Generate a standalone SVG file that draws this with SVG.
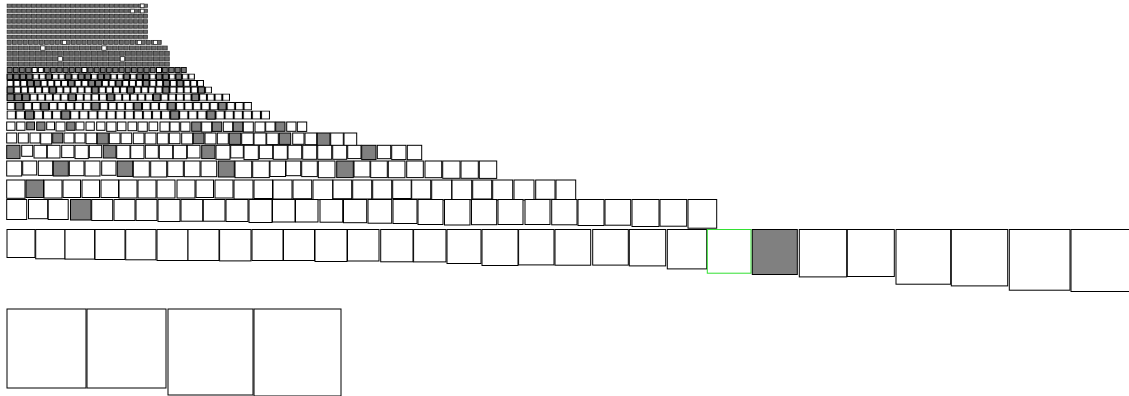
<svg xmlns="http://www.w3.org/2000/svg" width="1129" height="396" viewBox="0 0 1129 396">
<style>
.b{fill:#fff;stroke:#000;stroke-width:1}
.g{fill:#808080;stroke:#000;stroke-width:1}
.gr{fill:#fff;stroke:#33e033;stroke-width:1}
.w{fill:#fff;stroke:#222;stroke-width:0.7}
</style>
<defs>
<pattern id="t1" patternUnits="userSpaceOnUse" x="6.7" y="3.5" width="4.87" height="8"><rect x="0.5" y="0.5" width="3.7" height="3.7" fill="#6e6e6e" stroke="#1a1a1a" stroke-width="0.7"/></pattern>
<pattern id="t2" patternUnits="userSpaceOnUse" x="6.7" y="8.7" width="4.87" height="8"><rect x="0.5" y="0.5" width="3.7" height="3.7" fill="#6a6a6a" stroke="#1a1a1a" stroke-width="0.7"/></pattern>
<pattern id="t3" patternUnits="userSpaceOnUse" x="6.7" y="13.9" width="4.87" height="8"><rect x="0.5" y="0.5" width="3.7" height="3.7" fill="#666" stroke="#1a1a1a" stroke-width="0.7"/></pattern>
<pattern id="t4" patternUnits="userSpaceOnUse" x="6.7" y="19.1" width="4.87" height="8"><rect x="0.5" y="0.5" width="3.7" height="3.7" fill="#6a6a6a" stroke="#1a1a1a" stroke-width="0.7"/></pattern>
<pattern id="t5" patternUnits="userSpaceOnUse" x="6.7" y="24.3" width="4.87" height="8"><rect x="0.5" y="0.5" width="3.7" height="3.7" fill="#666" stroke="#1a1a1a" stroke-width="0.7"/></pattern>
<pattern id="t6" patternUnits="userSpaceOnUse" x="6.7" y="29.5" width="4.87" height="8"><rect x="0.5" y="0.5" width="3.7" height="3.7" fill="#6a6a6a" stroke="#1a1a1a" stroke-width="0.7"/></pattern>
<pattern id="t7" patternUnits="userSpaceOnUse" x="6.7" y="34.7" width="4.87" height="8"><rect x="0.5" y="0.5" width="3.7" height="3.7" fill="#666" stroke="#1a1a1a" stroke-width="0.7"/></pattern>
<pattern id="t8" patternUnits="userSpaceOnUse" x="6.7" y="39.9" width="5.35" height="8"><rect x="0.5" y="0.5" width="4.1" height="4.1" fill="#6e6e6e" stroke="#1a1a1a" stroke-width="0.7"/></pattern>
<pattern id="t9" patternUnits="userSpaceOnUse" x="6.7" y="45.4" width="5.56" height="8"><rect x="0.5" y="0.5" width="4.3" height="4.3" fill="#6a6a6a" stroke="#1a1a1a" stroke-width="0.7"/></pattern>
<pattern id="t10" patternUnits="userSpaceOnUse" x="6.7" y="50.8" width="5.63" height="8"><rect x="0.5" y="0.5" width="4.4" height="4.4" fill="#666" stroke="#1a1a1a" stroke-width="0.7"/></pattern>
<pattern id="t11" patternUnits="userSpaceOnUse" x="6.7" y="56.2" width="5.63" height="8"><rect x="0.5" y="0.5" width="4.4" height="4.4" fill="#6a6a6a" stroke="#1a1a1a" stroke-width="0.7"/></pattern>
<pattern id="t12" patternUnits="userSpaceOnUse" x="6.7" y="61.5" width="5.63" height="8"><rect x="0.5" y="0.5" width="4.4" height="4.4" fill="#6e6e6e" stroke="#1a1a1a" stroke-width="0.7"/></pattern>
<pattern id="pM" patternUnits="userSpaceOnUse" x="6.7" y="67" width="6.22" height="9"><rect x="0.5" y="0.5" width="5.0" height="5.0" fill="#777" stroke="#000" stroke-width="0.9"/></pattern>
<pattern id="pL" patternUnits="userSpaceOnUse" x="6.7" y="73.5" width="6.49" height="9"><rect x="0.5" y="0.5" width="5.4" height="5.4" fill="#fff" stroke="#000" stroke-width="1"/></pattern>
<pattern id="pK" patternUnits="userSpaceOnUse" x="6.7" y="80" width="6.8" height="9"><rect x="0.5" y="0.5" width="5.8" height="5.8" fill="#fff" stroke="#000" stroke-width="1"/></pattern>
<pattern id="pJ" patternUnits="userSpaceOnUse" x="6.7" y="86.5" width="7.08" height="9"><rect x="0.5" y="0.5" width="6.1" height="6.1" fill="#fff" stroke="#000" stroke-width="1"/></pattern>
<pattern id="pI" patternUnits="userSpaceOnUse" x="6.7" y="93.5" width="7.7" height="10"><rect x="0.5" y="0.5" width="6.7" height="6.7" fill="#fff" stroke="#000" stroke-width="1"/></pattern>
<pattern id="pH" patternUnits="userSpaceOnUse" x="6.7" y="102" width="8.46" height="10"><rect x="0.5" y="0.5" width="7.4" height="7.4" fill="#fff" stroke="#000" stroke-width="1"/></pattern>
<pattern id="pG" patternUnits="userSpaceOnUse" x="6.7" y="110.5" width="9.08" height="11"><rect x="0.5" y="0.5" width="8.1" height="8.1" fill="#fff" stroke="#000" stroke-width="1"/></pattern>
</defs>
<rect width="1129" height="396" fill="#fff"/>

<g id="top-rows">
<rect x="6.7" y="3.5" width="141.3" height="5" fill="url(#t1)"/>
<rect x="6.7" y="8.7" width="141.3" height="5" fill="url(#t2)"/>
<rect x="6.7" y="13.9" width="141.3" height="5" fill="url(#t3)"/>
<rect x="6.7" y="19.1" width="141.3" height="5" fill="url(#t4)"/>
<rect x="6.7" y="24.3" width="141.3" height="5" fill="url(#t5)"/>
<rect x="6.7" y="29.5" width="141.3" height="5" fill="url(#t6)"/>
<rect x="6.7" y="34.7" width="141.3" height="5" fill="url(#t7)"/>
<rect x="6.7" y="39.9" width="155.3" height="5.4" fill="url(#t8)"/>
<rect x="6.7" y="45.4" width="161.3" height="5.4" fill="url(#t9)"/>
<rect x="6.7" y="50.8" width="163.3" height="5.4" fill="url(#t10)"/>
<rect x="6.7" y="56.2" width="163.3" height="5.4" fill="url(#t11)"/>
<rect x="6.7" y="61.5" width="163.3" height="5.4" fill="url(#t12)"/>
<rect class="w" x="140.4" y="4" width="3.7" height="3.7"/>
<rect class="w" x="130.7" y="9.2" width="3.7" height="3.7"/>
<rect class="w" x="140.4" y="9.2" width="3.7" height="3.7"/>
<rect class="w" x="62.4" y="40.4" width="4.1" height="4.1"/>
<rect class="w" x="137.3" y="40.4" width="4.1" height="4.1"/>
<rect class="w" x="153.4" y="40.4" width="4.1" height="4.1"/>
<rect class="w" x="40.7" y="45.9" width="4.3" height="4.3"/>
<rect class="w" x="101.9" y="45.9" width="4.3" height="4.3"/>
<rect class="w" x="58" y="56.7" width="4.4" height="4.4"/>
<rect class="w" x="120.3" y="56.7" width="4.4" height="4.4"/>
</g>

<g id="row-M">
<rect x="6.7" y="67" width="180.3" height="6" fill="url(#pM)"/>
<rect class="b" x="32.1" y="67.5" width="5.0" height="5.0"/>
<rect class="b" x="38.3" y="67.5" width="5.0" height="5.0"/>
<rect class="b" x="81.9" y="67.5" width="5.0" height="5.0"/>
<rect class="b" x="156.5" y="67.5" width="5.0" height="5.0"/>
</g>
<g id="row-L">
<rect x="6.7" y="73.5" width="188.3" height="6.5" fill="url(#pL)"/>
<rect class="g" x="7.2" y="74" width="5.4" height="5.4"/>
<rect class="g" x="13.7" y="74" width="5.4" height="5.4"/>
<rect class="g" x="20.2" y="74" width="5.4" height="5.4"/>
<rect class="g" x="26.7" y="74" width="5.4" height="5.4"/>
<rect class="g" x="46.1" y="74" width="5.4" height="5.4"/>
<rect class="g" x="65.6" y="74" width="5.4" height="5.4"/>
<rect class="g" x="78.6" y="74" width="5.4" height="5.4"/>
<rect class="g" x="85.1" y="74" width="5.4" height="5.4"/>
<rect class="g" x="98.1" y="74" width="5.4" height="5.4"/>
<rect class="g" x="104.6" y="74" width="5.4" height="5.4"/>
<rect class="g" x="124.0" y="74" width="5.4" height="5.4"/>
<rect class="g" x="137.0" y="74" width="5.4" height="5.4"/>
<rect class="g" x="143.5" y="74" width="5.4" height="5.4"/>
<rect class="g" x="156.5" y="74" width="5.4" height="5.4"/>
<rect class="g" x="163.0" y="74" width="5.4" height="5.4"/>
<rect class="g" x="176.0" y="74" width="5.4" height="5.4"/>
</g>
<g id="row-K">
<rect x="6.7" y="80" width="197.3" height="7" fill="url(#pK)"/>
<rect class="g" x="27.6" y="80.5" width="5.8" height="5.8"/>
<rect class="g" x="34.4" y="80.5" width="5.8" height="5.8"/>
<rect class="g" x="68.4" y="80.5" width="5.8" height="5.8"/>
<rect class="g" x="88.8" y="80.5" width="5.8" height="5.8"/>
<rect class="g" x="95.6" y="80.5" width="5.8" height="5.8"/>
<rect class="g" x="116.0" y="80.5" width="5.8" height="5.8"/>
<rect class="g" x="143.2" y="80.5" width="5.8" height="5.8"/>
<rect class="g" x="163.6" y="80.5" width="5.8" height="5.8"/>
<rect class="g" x="177.2" y="80.5" width="5.8" height="5.8"/>
</g>
<g id="row-J">
<rect x="6.7" y="86.5" width="205.3" height="7" fill="url(#pJ)"/>
<rect class="g" x="7.2" y="87" width="6.1" height="6.1"/>
<rect class="g" x="49.7" y="87" width="6.1" height="6.1"/>
<rect class="g" x="92.1" y="87" width="6.1" height="6.1"/>
<rect class="g" x="127.5" y="87" width="6.1" height="6.1"/>
<rect class="g" x="162.9" y="87" width="6.1" height="6.1"/>
<rect class="g" x="198.3" y="87" width="6.1" height="6.1"/>
</g>
<g id="row-I">
<rect x="6.7" y="93.5" width="223.3" height="8" fill="url(#pI)"/>
<rect class="g" x="7.2" y="94" width="6.7" height="6.7"/>
<rect class="g" x="14.9" y="94" width="6.7" height="6.7"/>
<rect class="g" x="22.6" y="94" width="6.7" height="6.7"/>
<rect class="g" x="68.8" y="94" width="6.7" height="6.7"/>
<rect class="g" x="107.3" y="94" width="6.7" height="6.7"/>
<rect class="g" x="153.5" y="94" width="6.7" height="6.7"/>
<rect class="g" x="192.0" y="94" width="6.7" height="6.7"/>
</g>
<g id="row-H">
<rect x="6.7" y="102" width="245.3" height="8.5" fill="url(#pH)"/>
<rect class="g" x="15.7" y="102.5" width="7.4" height="7.4"/>
<rect class="g" x="41.0" y="102.5" width="7.4" height="7.4"/>
<rect class="g" x="91.8" y="102.5" width="7.4" height="7.4"/>
<rect class="g" x="134.1" y="102.5" width="7.4" height="7.4"/>
<rect class="g" x="167.9" y="102.5" width="7.4" height="7.4"/>
<rect class="g" x="218.7" y="102.5" width="7.4" height="7.4"/>
</g>
<g id="row-G">
<rect x="6.7" y="110.5" width="263.3" height="9.2" fill="url(#pG)"/>
<rect class="g" x="25.4" y="111" width="8.1" height="8.1"/>
<rect class="g" x="61.7" y="111" width="8.1" height="8.1"/>
<rect class="g" x="170.7" y="111" width="8.1" height="8.1"/>
<rect class="g" x="207.0" y="111" width="8.1" height="8.1"/>
</g>

<g id="row-C">
<rect class="b" x="6.7" y="122" width="8.3" height="8.3"/>
<rect class="b" x="16.7" y="122" width="8.3" height="8.3"/>
<rect class="g" x="26.7" y="122" width="7.8" height="7.8"/>
<rect class="g" x="36.7" y="122" width="8.3" height="8.3"/>
<rect class="b" x="46.7" y="122" width="7.8" height="7.8"/>
<rect class="b" x="56" y="122" width="9" height="9"/>
<rect class="g" x="66.7" y="122" width="8.3" height="8.3"/>
<rect class="b" x="76" y="122" width="8" height="8"/>
<rect class="b" x="86" y="122" width="8.3" height="8.3"/>
<rect class="b" x="96.7" y="122" width="8.3" height="8.3"/>
<rect class="b" x="106.7" y="122" width="9.3" height="9.3"/>
<rect class="b" x="117.3" y="122" width="8.7" height="8.7"/>
<rect class="b" x="128" y="122" width="8.7" height="8.7"/>
<rect class="b" x="138" y="122" width="9.3" height="9.3"/>
<rect class="b" x="149" y="122" width="8.7" height="8.7"/>
<rect class="b" x="160" y="122" width="9.3" height="9.3"/>
<rect class="b" x="170" y="122" width="9.3" height="9.3"/>
<rect class="b" x="180.7" y="122" width="9.3" height="9.3"/>
<rect class="g" x="191.7" y="122" width="9.3" height="9.3"/>
<rect class="b" x="201.7" y="122" width="10" height="10"/>
<rect class="g" x="212.3" y="122" width="9.4" height="9.4"/>
<rect class="b" x="223.3" y="122" width="9.4" height="9.4"/>
<rect class="g" x="233.3" y="122" width="9.4" height="9.4"/>
<rect class="b" x="243.3" y="122" width="10" height="10"/>
<rect class="b" x="255" y="122" width="10" height="10"/>
<rect class="b" x="265.7" y="122" width="9.3" height="9.3"/>
<rect class="g" x="275.7" y="122" width="9.3" height="9.3"/>
<rect class="b" x="286.7" y="122" width="9.3" height="9.3"/>
<rect class="b" x="297.3" y="122" width="9.4" height="9.4"/>
</g>

<g id="row-D">
<rect class="b" x="6.7" y="133" width="10" height="10"/>
<rect class="b" x="18.3" y="133" width="10" height="10"/>
<rect class="b" x="30" y="133" width="10" height="10"/>
<rect class="b" x="40.7" y="133" width="11" height="11"/>
<rect class="g" x="52.7" y="133" width="10" height="10"/>
<rect class="b" x="64" y="133" width="10" height="10"/>
<rect class="b" x="75" y="133" width="10" height="10"/>
<rect class="b" x="86" y="133" width="10.7" height="10.7"/>
<rect class="g" x="97.3" y="133" width="11" height="11"/>
<rect class="b" x="109.3" y="133" width="10.7" height="10.7"/>
<rect class="b" x="121" y="133" width="10.7" height="10.7"/>
<rect class="b" x="133.3" y="133" width="10.7" height="10.7"/>
<rect class="b" x="145" y="133" width="11" height="11"/>
<rect class="b" x="157.3" y="133" width="11" height="11"/>
<rect class="b" x="169.3" y="133" width="10.7" height="10.7"/>
<rect class="b" x="181.7" y="133" width="11" height="11"/>
<rect class="g" x="193.3" y="133" width="10.7" height="10.7"/>
<rect class="b" x="205" y="133" width="11" height="11"/>
<rect class="b" x="217.3" y="133" width="11" height="11"/>
<rect class="g" x="229.3" y="133" width="11.4" height="11.4"/>
<rect class="b" x="241.7" y="133" width="11.6" height="11.6"/>
<rect class="b" x="254" y="133" width="12" height="12"/>
<rect class="b" x="266.7" y="133" width="11.6" height="11.6"/>
<rect class="g" x="279.3" y="133" width="11.4" height="11.4"/>
<rect class="b" x="292.7" y="133" width="11.3" height="11.3"/>
<rect class="b" x="305" y="133" width="11.7" height="11.7"/>
<rect class="g" x="317.3" y="133" width="12.7" height="12.7"/>
<rect class="b" x="330.7" y="133" width="12.6" height="12.6"/>
<rect class="b" x="344" y="133" width="12.7" height="12.7"/>
</g>

<g id="row-E">
<rect class="g" x="6.7" y="145.3" width="13.3" height="13.3"/>
<rect class="b" x="21.7" y="145.3" width="11" height="11"/>
<rect class="b" x="34" y="145.3" width="12.7" height="12.7"/>
<rect class="b" x="47.3" y="145.3" width="12.7" height="12.7"/>
<rect class="b" x="61.7" y="145.3" width="12.3" height="12.3"/>
<rect class="b" x="75" y="145.3" width="13.3" height="13.3"/>
<rect class="b" x="89.3" y="145.3" width="12.4" height="12.4"/>
<rect class="g" x="103.3" y="145.3" width="12.7" height="12.7"/>
<rect class="b" x="116.7" y="145.3" width="13.3" height="13.3"/>
<rect class="b" x="130.7" y="145.3" width="13.3" height="13.3"/>
<rect class="b" x="145.3" y="145.3" width="13" height="13"/>
<rect class="b" x="159.3" y="145.3" width="13.4" height="13.4"/>
<rect class="b" x="173.3" y="145.3" width="13.4" height="13.4"/>
<rect class="b" x="187.3" y="145.3" width="12.7" height="12.7"/>
<rect class="g" x="201.7" y="145.3" width="13.3" height="13.3"/>
<rect class="b" x="216" y="145.3" width="14" height="14"/>
<rect class="b" x="230.7" y="145.3" width="12.6" height="12.6"/>
<rect class="b" x="244" y="145.3" width="14.3" height="14.3"/>
<rect class="b" x="259.3" y="145.3" width="13.4" height="13.4"/>
<rect class="b" x="273.3" y="145.3" width="14" height="14"/>
<rect class="b" x="288" y="145.3" width="13.7" height="13.7"/>
<rect class="b" x="302.7" y="145.3" width="14" height="14"/>
<rect class="b" x="317.7" y="145.3" width="14" height="14"/>
<rect class="b" x="332.7" y="145.3" width="14" height="14"/>
<rect class="b" x="347.7" y="145.3" width="13.3" height="13.3"/>
<rect class="g" x="361.7" y="145.3" width="14.3" height="14.3"/>
<rect class="b" x="377.3" y="145.3" width="13.4" height="13.4"/>
<rect class="b" x="391.7" y="145.3" width="14.3" height="14.3"/>
<rect class="b" x="407.3" y="145.3" width="14.4" height="14.4"/>
</g>

<g id="row-F">
<rect class="b" x="6.7" y="161" width="15" height="15"/>
<rect class="b" x="22.7" y="161" width="14" height="14"/>
<rect class="b" x="38.3" y="161" width="14.4" height="14.4"/>
<rect class="g" x="53.3" y="161" width="15" height="15"/>
<rect class="b" x="69.3" y="161" width="14.7" height="14.7"/>
<rect class="b" x="85" y="161" width="15" height="15"/>
<rect class="b" x="101.7" y="161" width="14.3" height="14.3"/>
<rect class="g" x="117.3" y="161" width="15.4" height="15.4"/>
<rect class="b" x="133.3" y="161" width="16" height="16"/>
<rect class="b" x="150.7" y="161" width="16" height="16"/>
<rect class="b" x="167.7" y="161" width="15.6" height="15.6"/>
<rect class="b" x="184.3" y="161" width="15.7" height="15.7"/>
<rect class="b" x="201" y="161" width="15.7" height="15.7"/>
<rect class="g" x="218.3" y="161" width="16" height="16"/>
<rect class="b" x="235" y="161" width="16.7" height="16.7"/>
<rect class="b" x="252.7" y="161" width="16.6" height="16.6"/>
<rect class="b" x="270" y="161" width="15.5" height="15.5"/>
<rect class="b" x="286" y="161" width="14.7" height="14.7"/>
<rect class="b" x="301.7" y="161" width="15.6" height="15.6"/>
<rect class="b" x="318.3" y="161" width="16.7" height="16.7"/>
<rect class="g" x="336.7" y="161" width="16.6" height="16.6"/>
<rect class="b" x="354" y="161" width="16" height="16"/>
<rect class="b" x="370.7" y="161" width="16.6" height="16.6"/>
<rect class="b" x="388.3" y="161" width="16.7" height="16.7"/>
<rect class="b" x="406.7" y="161" width="16.6" height="16.6"/>
<rect class="b" x="425" y="161" width="16.7" height="16.7"/>
<rect class="b" x="442.7" y="161" width="17.3" height="17.3"/>
<rect class="b" x="461" y="161" width="17.3" height="17.3"/>
<rect class="b" x="479.3" y="161" width="17.4" height="17.4"/>
</g>

<g id="row-A">
<rect class="b" x="6.7" y="180" width="18.3" height="18.3"/>
<rect class="g" x="26" y="180" width="17.5" height="17.5"/>
<rect class="b" x="44" y="180" width="18" height="18"/>
<rect class="b" x="63" y="180" width="17.5" height="17.5"/>
<rect class="b" x="82" y="180" width="17.5" height="17.5"/>
<rect class="b" x="101" y="180" width="17.5" height="17.5"/>
<rect class="b" x="119" y="180" width="18" height="18"/>
<rect class="b" x="138" y="180" width="18" height="18"/>
<rect class="b" x="157" y="180" width="18" height="18"/>
<rect class="b" x="177" y="180" width="18" height="18"/>
<rect class="b" x="196" y="180" width="17.5" height="17.5"/>
<rect class="b" x="215" y="180" width="18" height="18"/>
<rect class="b" x="234" y="180" width="19" height="19"/>
<rect class="b" x="254" y="180" width="18.5" height="18.5"/>
<rect class="b" x="273" y="180" width="19" height="19"/>
<rect class="b" x="293" y="180" width="18.7" height="18.7"/>
<rect class="b" x="313" y="180" width="19.7" height="19.7"/>
<rect class="b" x="333" y="180" width="18.7" height="18.7"/>
<rect class="b" x="352.7" y="180" width="19" height="19"/>
<rect class="b" x="372.7" y="180" width="19" height="19"/>
<rect class="b" x="392.7" y="180" width="18.5" height="18.5"/>
<rect class="b" x="411.7" y="180" width="19" height="19"/>
<rect class="b" x="431.7" y="180" width="20" height="20"/>
<rect class="b" x="452" y="180" width="19.7" height="19.7"/>
<rect class="b" x="472.7" y="180" width="19" height="19"/>
<rect class="b" x="492.7" y="180" width="20" height="20"/>
<rect class="b" x="514" y="180" width="20" height="20"/>
<rect class="b" x="535.7" y="180" width="19.3" height="19.3"/>
<rect class="b" x="556" y="180" width="19.7" height="19.7"/>
</g>

<g id="row-B">
<rect class="b" x="6.7" y="199.5" width="20" height="20"/>
<rect class="b" x="28.5" y="199.5" width="19.2" height="19.2"/>
<rect class="b" x="48.2" y="199.5" width="20" height="20"/>
<rect class="g" x="70.5" y="199.5" width="20.5" height="20.5"/>
<rect class="b" x="91.7" y="199.5" width="21" height="21"/>
<rect class="b" x="114" y="199.5" width="21" height="21"/>
<rect class="b" x="136" y="199.5" width="21" height="21"/>
<rect class="b" x="158" y="199.5" width="22" height="22"/>
<rect class="b" x="181" y="199.5" width="21.7" height="21.7"/>
<rect class="b" x="203.3" y="199.5" width="21.7" height="21.7"/>
<rect class="b" x="226" y="199.5" width="22" height="22"/>
<rect class="b" x="249" y="199.5" width="23" height="23"/>
<rect class="b" x="272.5" y="199.5" width="22.5" height="22.5"/>
<rect class="b" x="295.5" y="199.5" width="22.5" height="22.5"/>
<rect class="b" x="320" y="199.5" width="22.7" height="22.7"/>
<rect class="b" x="343.5" y="199.5" width="23.2" height="23.2"/>
<rect class="b" x="368" y="199.5" width="23.7" height="23.7"/>
<rect class="b" x="393" y="199.5" width="24" height="24"/>
<rect class="b" x="418" y="199.5" width="25" height="25"/>
<rect class="b" x="444.5" y="199.5" width="25.5" height="25.5"/>
<rect class="b" x="471.5" y="199.5" width="25.2" height="25.2"/>
<rect class="b" x="498" y="199.5" width="25" height="25"/>
<rect class="b" x="525" y="199.5" width="25" height="25"/>
<rect class="b" x="551.7" y="199.5" width="25.3" height="25.3"/>
<rect class="b" x="578" y="199.5" width="26" height="26"/>
<rect class="b" x="605" y="199.5" width="25.7" height="25.7"/>
<rect class="b" x="632" y="199.5" width="27" height="27"/>
<rect class="b" x="660" y="199.5" width="26.7" height="26.7"/>
<rect class="b" x="688" y="199.5" width="28.7" height="28.7"/>
</g>

<g id="row-big">
<rect class="b" x="7" y="229.5" width="28" height="28"/>
<rect class="b" x="35.7" y="229.5" width="29.3" height="29.3"/>
<rect class="b" x="65" y="229.5" width="29.6" height="29.6"/>
<rect class="b" x="95" y="229.5" width="30" height="30"/>
<rect class="b" x="125.7" y="229.5" width="30.3" height="30.3"/>
<rect class="b" x="157" y="229.5" width="31" height="31"/>
<rect class="b" x="188" y="229.5" width="31" height="31"/>
<rect class="b" x="219.6" y="229.5" width="31.4" height="31.4"/>
<rect class="b" x="252" y="229.5" width="31" height="31"/>
<rect class="b" x="283.5" y="229.5" width="31" height="31"/>
<rect class="b" x="315" y="229.5" width="32" height="32"/>
<rect class="b" x="347.5" y="229.5" width="31.5" height="31.5"/>
<rect class="b" x="380.7" y="229.5" width="32.3" height="32.3"/>
<rect class="b" x="413.6" y="229.5" width="32.4" height="32.4"/>
<rect class="b" x="447" y="229.5" width="34" height="34"/>
<rect class="b" x="482" y="229.5" width="36" height="36"/>
<rect class="b" x="518.6" y="229.5" width="35.4" height="35.4"/>
<rect class="b" x="555" y="229.5" width="35.7" height="35.7"/>
<rect class="b" x="592.7" y="229.5" width="35.6" height="35.6"/>
<rect class="b" x="629.3" y="229.5" width="36.4" height="36.4"/>
<rect class="b" x="667.3" y="229.5" width="39.4" height="39.4"/>
<rect class="gr" x="707.3" y="229.5" width="43.7" height="43.7"/>
<rect class="g" x="752.3" y="229.5" width="45" height="45"/>
<rect class="b" x="799.3" y="229.5" width="47.4" height="47.4"/>
<rect class="b" x="847.3" y="229.5" width="47" height="47"/>
<rect class="b" x="896" y="229.5" width="54.7" height="54.7"/>
<rect class="b" x="951.3" y="229.5" width="56.4" height="56.4"/>
<rect class="b" x="1009.3" y="229.5" width="60.7" height="60.7"/>
<rect class="b" x="1071" y="229.5" width="62" height="62"/>
</g>

<g id="row-bottom">
<rect class="b" x="7" y="309" width="79" height="79"/>
<rect class="b" x="87" y="309" width="79" height="79"/>
<rect class="b" x="168" y="309" width="85" height="86"/>
<rect class="b" x="254" y="309" width="87" height="87"/>
</g>
</svg>
